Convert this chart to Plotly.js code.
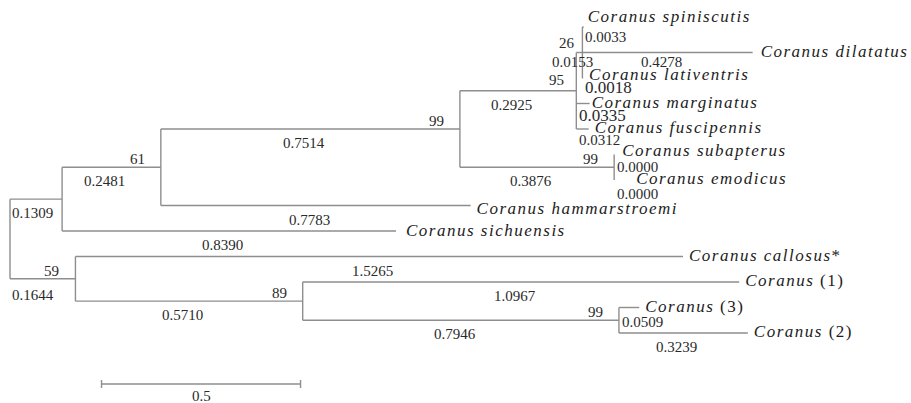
<!DOCTYPE html>
<html>
<head>
<meta charset="utf-8">
<script src="https://cdn.plot.ly/plotly-3.0.1.min.js"></script>
<style>
  html, body { margin: 0; padding: 0; background: #ffffff; }
  #tree { width: 911px; height: 403px; }
  /* taxon names are set a little wider than the plain italic face */
  #tree .textpoint text { letter-spacing: 1.5px; }
</style>
</head>
<body>
<div id="tree"></div>
<script>
// ---- tree data: one entry per branch (child -> parent), in drawing order ----
const childNames = [
  'u1', 'n61', 'n99a', 'n95', 'n26',
  'Coranus spiniscutis', 'Coranus dilatatus', 'Coranus lativentris',
  'Coranus marginatus', 'Coranus fuscipennis',
  'n99b', 'Coranus subapterus', 'Coranus emodicus',
  'Coranus hammarstroemi', 'Coranus sichuensis',
  'n59', 'Coranus callosus*', 'n89', 'Coranus (1)', 'n99c', 'Coranus (3)', 'Coranus (2)'
];
const parentNames = [
  'root', 'u1', 'n61', 'n99a', 'n95',
  'n26', 'n26', 'n26',
  'n95', 'n95',
  'n99a', 'n99b', 'n99b',
  'n61', 'u1',
  'root', 'n59', 'n59', 'n89', 'n89', 'n99c', 'n99c'
];
const branchLengths = [
  0.1309, 0.2481, 0.7514, 0.2925, 0.0153,
  0.0033, 0.4278, 0.0018,
  0.0335, 0.0312,
  0.3876, 0.0000, 0.0000,
  0.7783, 0.8390,
  0.1644, 1.5265, 0.5710, 1.0967, 0.7946, 0.0509, 0.3239
];
const supportValues = [
  null, 61, 99, 95, 26,
  null, null, null,
  null, null,
  99, null, null,
  null, null,
  59, null, 89, null, 99, null, null
];
const scaleBarLength = 0.5;

// ---- drawing geometry ----
const W = 911, H = 403;
const PX_PER_UNIT = 398;   // horizontal pixels per substitution unit
const ROOT_PX = 10;        // root position from the left edge
const TIP_TOP_PX = 27;     // first tip row
const TIP_STEP_PX = 25.5;  // row spacing between tips
const SCALE_START = 0.23;  // scale bar left end (tree units)
const SCALE_ROW = 14.0;    // scale bar row

const LINE_COLOR = '#8e8e8e';
const TEXT_COLOR = '#2a2a2a';
const SERIF = 'Liberation Serif, Times New Roman, serif';

// small hand placements for crowded labels [dx, dy] in pixels (down = +)
const tipNudge = {
  'Coranus spiniscutis': [-2, -9],
  'Coranus lativentris': [0, -2],
  'Coranus subapterus': [2, -3],
  'Coranus emodicus': [16, 0],
  'Coranus marginatus': [-4, 0],
  'Coranus dilatatus': [2, 0],
  'Coranus hammarstroemi': [0, 4],
  'Coranus sichuensis': [4, 1]
};
const lengthNudge = {
  'u1': [3, 0],
  'n59': [-4, 2],
  'Coranus spiniscutis': [0, -4],
  'n26': [0, -5],
  'Coranus dilatatus': [0, -5],
  'Coranus lativentris': [0, -5],
  'Coranus marginatus': [0, -2],
  'Coranus fuscipennis': [0, -3],
  'Coranus subapterus': [0, -2],
  'Coranus emodicus': [0, 0]
};
const supportNudge = { 'n95': [4, -3], 'n26': [9, -2] };
const largeLengthLabels = new Set(['Coranus lativentris', 'Coranus marginatus']);

// ---- build the tree ----
const kids = {}, lenOf = {}, supOf = {}, parentOf = {};
childNames.forEach((c, i) => {
  (kids[parentNames[i]] = kids[parentNames[i]] || []).push(c);
  lenOf[c] = branchLengths[i];
  supOf[c] = supportValues[i];
  parentOf[c] = parentNames[i];
});

const X = {}, Y = {}, tips = [];
let tipIndex = 0;
function walk(node, x) {
  X[node] = x;
  const ch = kids[node];
  if (!ch) { Y[node] = tipIndex++; tips.push(node); return; }
  ch.forEach(c => walk(c, x + lenOf[c]));
  Y[node] = (Y[ch[0]] + Y[ch[ch.length - 1]]) / 2;
}
walk('root', 0);

const pxX = d => ROOT_PX + d * PX_PER_UNIT;
const dX = px => (px - ROOT_PX) / PX_PER_UNIT;

// ---- branch lines ----
const lx = [], ly = [];
childNames.forEach(c => {
  lx.push(X[parentOf[c]], X[c], null);
  ly.push(Y[c], Y[c], null);
});
Object.keys(kids).forEach(n => {
  const ch = kids[n];
  lx.push(X[n], X[n], null);
  ly.push(Y[ch[0]], Y[ch[ch.length - 1]], null);
});

// scale bar with end ticks
const tickH = 4 / TIP_STEP_PX;
const sbx = [SCALE_START, SCALE_START + scaleBarLength, null,
             SCALE_START, SCALE_START, null,
             SCALE_START + scaleBarLength, SCALE_START + scaleBarLength, null];
const sby = [SCALE_ROW, SCALE_ROW, null,
             SCALE_ROW - tickH, SCALE_ROW + tickH, null,
             SCALE_ROW - tickH, SCALE_ROW + tickH, null];

// ---- taxon labels ----
function tipHtml(name) {
  const m = name.match(/^(.*?)(\s*\(\d+\)|\*)?$/);
  return '<i>' + m[1] + '</i>' + (m[2] || '');
}
const TIP_GAP = 6;
const tx = [], ty = [], tt = [];
tips.forEach(t => {
  const nd = tipNudge[t] || [0, 0];
  tx.push(dX(pxX(X[t]) + TIP_GAP + nd[0]));
  ty.push(Y[t] + nd[1] / TIP_STEP_PX);
  tt.push(tipHtml(t));
});

// ---- numeric annotations ----
const annotations = [];
childNames.forEach(c => {
  const p = parentOf[c];
  const x0 = pxX(X[p]), x1 = pxX(X[c]);
  let left = (x0 + x1) / 2 - 29;
  if (!kids[c]) left = Math.max(left, x0 + 1);
  const nd = lengthNudge[c] || [0, 0];
  annotations.push({
    x: dX(left + nd[0]), y: Y[c], xref: 'x', yref: 'y',
    xanchor: 'left', yanchor: 'middle',
    yshift: -(14 + nd[1]),
    text: lenOf[c].toFixed(4), showarrow: false,
    font: { family: SERIF, size: largeLengthLabels.has(c) ? 17 : 15, color: TEXT_COLOR }
  });
  if (supOf[c] !== null) {
    const sn = supportNudge[c] || [0, 0];
    annotations.push({
      x: X[c], y: Y[c], xref: 'x', yref: 'y',
      xanchor: 'right', yanchor: 'middle',
      xshift: -14 + sn[0], yshift: 8 - sn[1],
      text: String(supOf[c]), showarrow: false,
      font: { family: SERIF, size: 15, color: TEXT_COLOR }
    });
  }
});
annotations.push({
  x: SCALE_START + scaleBarLength / 2, y: SCALE_ROW, xref: 'x', yref: 'y',
  xanchor: 'center', yanchor: 'middle', yshift: -12,
  text: String(scaleBarLength), showarrow: false,
  font: { family: SERIF, size: 15, color: TEXT_COLOR }
});

const traces = [
  { x: lx, y: ly, mode: 'lines', line: { color: LINE_COLOR, width: 1.4 },
    hoverinfo: 'skip', showlegend: false, cliponaxis: false },
  { x: sbx, y: sby, mode: 'lines', line: { color: LINE_COLOR, width: 1.4 },
    hoverinfo: 'skip', showlegend: false, cliponaxis: false },
  { x: tx, y: ty, mode: 'text', text: tt, textposition: 'middle right',
    textfont: { family: SERIF, size: 17, color: '#1c1c1c' },
    hoverinfo: 'skip', showlegend: false, cliponaxis: false }
];

const layout = {
  width: W, height: H,
  margin: { l: 0, r: 0, t: 0, b: 0 },
  paper_bgcolor: '#ffffff', plot_bgcolor: '#ffffff',
  xaxis: { range: [dX(0), dX(W)], visible: false, fixedrange: true },
  yaxis: { range: [(H - TIP_TOP_PX) / TIP_STEP_PX, -TIP_TOP_PX / TIP_STEP_PX],
           visible: false, fixedrange: true },
  annotations: annotations,
  showlegend: false
};

Plotly.newPlot('tree', traces, layout, { staticPlot: true, displayModeBar: false });
</script>
</body>
</html>
